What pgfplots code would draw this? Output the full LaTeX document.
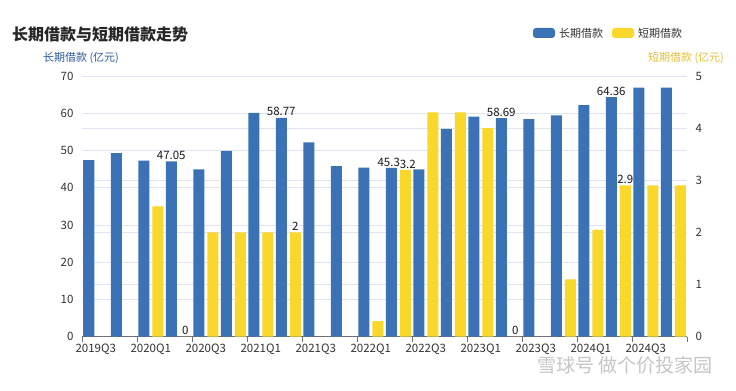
\documentclass[border=0pt]{standalone}
\usepackage{pgfplots}
\pgfplotsset{compat=1.18}
\usepackage{fontspec}
\setmainfont{Noto Sans CJK SC}
\definecolor{barblue}{HTML}{3A72B5}
\definecolor{baryellow}{HTML}{F9D72B}
\definecolor{gridc}{HTML}{E0E6F1}
\definecolor{axisc}{HTML}{6E7079}
\definecolor{labc}{HTML}{333333}
\definecolor{titleblue}{HTML}{2E5B9A}
\definecolor{titleyellow}{HTML}{E5BF3A}
\pgfplotsset{
  base/.style={
    at={(82bp,54.3bp)}, anchor=south west,
    scale only axis, width=605bp, height=260.7bp,
    xmin=-0.5, xmax=21.5,
    ybar, bar width=11bp,
    /pgf/number format/assume math mode=true,
    tick label style={font=\fontsize{11.5bp}{13bp}\selectfont, text=labc},
    major tick length=0pt,
  },
  lab/.style={
    draw=none, fill=none,
    point meta=explicit symbolic,
    nodes near coords,
    every node near coord/.append style={font=\fontsize{11.5bp}{13bp}\selectfont, text=black!90, anchor=south, inner sep=1.5bp},
  },
}
\begin{document}
\begin{tikzpicture}
\path[use as bounding box, fill=white] (0,0) rectangle (736bp,391bp);
% right axis: grid and ticks
\begin{axis}[base,
  ymin=0, ymax=5, ytick={0,1,...,5},
  axis y line*=right, axis x line=none,
  y axis line style={draw=none},
  ymajorgrids, grid style={gridc, line width=0.8bp},
  yticklabel style={xshift=5bp},
]
\addplot[draw=none, fill=none, forget plot] coordinates {(0,0)};
\end{axis}
% left axis: blue bars
\begin{axis}[base,
  ymin=0, ymax=70, ytick={0,10,...,70},
  axis y line*=left, axis x line*=bottom,
  y axis line style={draw=none},
  x axis line style={draw=axisc, line width=0.8bp},
  ymajorgrids, grid style={gridc, line width=0.8bp},
  yticklabel style={xshift=-5bp},
  xtick={0,2,...,20},
  xticklabels={2019Q3,2020Q1,2020Q3,2021Q1,2021Q3,2022Q1,2022Q3,2023Q1,2023Q3,2024Q1,2024Q3},
  xticklabel style={yshift=-4bp},
  extra x ticks={-0.5,1.5,...,21.5},
  extra x tick labels={},
  extra x tick style={major tick length=5bp, tick align=outside, tick style={draw=axisc, line width=0.8bp}},
]
\addplot[fill=barblue, draw=none, bar shift=-7bp] coordinates {
 (0,47.4) (1,49.3) (2,47.3) (3,47.05) (4,44.9) (5,49.9) (6,60.1) (7,58.77)
 (8,52.2) (9,45.8) (10,45.4) (11,45.3) (12,44.9) (13,55.8) (14,59.1) (15,58.69)
 (16,58.4) (17,59.4) (18,62.2) (19,64.36) (20,66.9) (21,66.9)};
\addplot[lab, bar shift=-7bp] coordinates {
 (3,47.05) [47.05] (7,58.77) [58.77] (15,58.69) [58.69] (19,64.36) [64.36]};
\addplot[lab, bar shift=-7bp, every node near coord/.append style={xshift=-2.5bp}] coordinates {
 (11,45.3) [45.3]};
\end{axis}
% yellow bars on right scale
\begin{axis}[base,
  ymin=0, ymax=5, hide axis,
]
\addplot[fill=baryellow, draw=none, bar shift=7bp] coordinates {
 (2,2.5) (3,0) (4,2) (5,2) (6,2) (7,2) (10,0.3) (11,3.2) (12,4.3) (13,4.3)
 (14,4.0) (15,0) (17,1.1) (18,2.05) (19,2.9) (20,2.9) (21,2.9)};
\addplot[lab, bar shift=7bp] coordinates {
 (3,0) [0] (7,2) [2] (15,0) [0] (19,2.9) [2.9]};
\addplot[lab, bar shift=7bp, every node near coord/.append style={xshift=2.5bp}] coordinates {
 (11,3.2) [3.2]};
\end{axis}
% titles
\node[anchor=west, inner sep=0, font=\fontsize{16bp}{18bp}\selectfont\bfseries, text=black!85] at (12bp,356.5bp) {长期借款与短期借款走势};
\node[inner sep=0, font=\fontsize{11bp}{13bp}\selectfont, text=titleblue] at (81bp,333.5bp) {长期借款 (亿元)};
\node[inner sep=0, font=\fontsize{11bp}{13bp}\selectfont, text=titleyellow] at (686bp,333.5bp) {短期借款 (亿元)};
% legend
\fill[barblue, rounded corners=3bp] (533bp,353bp) rectangle (555bp,363bp);
\node[anchor=west, inner sep=0, font=\fontsize{11bp}{13bp}\selectfont, text=labc] at (559bp,358bp) {长期借款};
\fill[baryellow, rounded corners=3bp] (612bp,353bp) rectangle (634bp,363bp);
\node[anchor=west, inner sep=0, font=\fontsize{11bp}{13bp}\selectfont, text=labc] at (638bp,358bp) {短期借款};
% watermark
\node[anchor=west, inner sep=0, font=\fontsize{19bp}{21bp}\selectfont, text=gray!45] at (537bp,26bp) {雪球号\ 做个价投家园};
\end{tikzpicture}
\end{document}
